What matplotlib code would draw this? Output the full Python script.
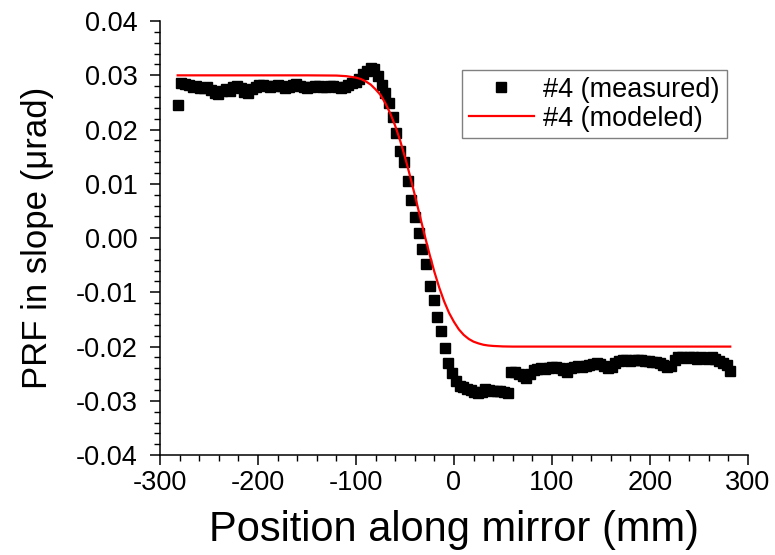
import numpy as np
import matplotlib
matplotlib.use("Agg")
import matplotlib.pyplot as plt
from matplotlib.ticker import MultipleLocator, FormatStrFormatter

plt.rcParams['font.family'] = ['Liberation Sans', 'DejaVu Sans']
plt.rcParams['axes.unicode_minus'] = False

# measured PRF (#4), sampled on a regular grid along the mirror
x_meas = np.linspace(-282, 282, 150)
y_meas = [
    0.0245, 0.0285, 0.0284, 0.0282, 0.0279, 0.0280, 0.0277, 0.0276, 0.0278, 0.0273,
    0.0268, 0.0266, 0.0271, 0.0275, 0.0272, 0.0278, 0.0280, 0.0276, 0.0270, 0.0268,
    0.0274, 0.0279, 0.0282, 0.0283, 0.0280, 0.0278, 0.0281, 0.0283, 0.0280, 0.0277,
    0.0279, 0.0282, 0.0284, 0.0281, 0.0278, 0.0277, 0.0279, 0.0280, 0.0281, 0.0279,
    0.0278, 0.0280, 0.0281, 0.0279, 0.0277, 0.0278, 0.0282, 0.0285, 0.0288, 0.0294,
    0.0302, 0.0308, 0.0314, 0.0312, 0.0298, 0.0282, 0.0268, 0.0249, 0.0224, 0.0193,
    0.0161, 0.0140, 0.0106, 0.0070, 0.0038, 0.0010, -0.0020, -0.0047, -0.0088, -0.0114,
    -0.0146, -0.0172, -0.0203, -0.0230, -0.0248, -0.0264, -0.0273, -0.0275, -0.0278, -0.0280,
    -0.0283, -0.0286, -0.0284, -0.0279, -0.0280, -0.0282, -0.0281, -0.0282, -0.0284, -0.0285,
    -0.0247, -0.0246, -0.0250, -0.0255, -0.0258, -0.0250, -0.0243, -0.0241, -0.0240, -0.0242,
    -0.0239, -0.0237, -0.0238, -0.0240, -0.0244, -0.0246, -0.0240, -0.0238, -0.0236, -0.0237,
    -0.0235, -0.0233, -0.0232, -0.0231, -0.0232, -0.0236, -0.0240, -0.0238, -0.0231, -0.0227,
    -0.0225, -0.0224, -0.0226, -0.0225, -0.0224, -0.0224, -0.0226, -0.0227, -0.0229, -0.0228,
    -0.0230, -0.0233, -0.0237, -0.0235, -0.0224, -0.0219, -0.0220, -0.0221, -0.0219, -0.0220,
    -0.0222, -0.0220, -0.0221, -0.0222, -0.0220, -0.0222, -0.0226, -0.0230, -0.0234, -0.0245,
]

# modeled PRF (#4)
x_model = [-282, -150, -120, -110, -100, -95, -90, -85, -80, -75, -70, -65, -60, -55,
           -50, -45, -40, -35, -30, -25, -20, -15, -10, -5, 0, 5, 10, 15, 20, 25,
           30, 35, 40, 50, 60, 282]
y_model = [0.0300, 0.0300, 0.02996, 0.02985, 0.02958, 0.02932, 0.02888, 0.02830, 0.02741,
           0.02640, 0.02485, 0.02297, 0.02071, 0.01801, 0.01494, 0.01156, 0.00796,
           0.00426, 0.00058, -0.00293, -0.00621, -0.00914, -0.01167, -0.01379, -0.01544,
           -0.01683, -0.01785, -0.01858, -0.01909, -0.01941, -0.01966, -0.01980, -0.01988,
           -0.01997, -0.0200, -0.0200]

fig = plt.figure(figsize=(7.75, 5.55), dpi=100)
ax = fig.add_axes([0.2065, 0.18, 0.7585, 0.782])

ax.plot(x_meas, y_meas, 's', color='black', markersize=6.5, label='#4 (measured)')
ax.plot(x_model, y_model, '-', color='red', linewidth=1.6, label='#4 (modeled)')

ax.set_xlim(-300, 300)
ax.set_ylim(-0.04, 0.04)
ax.xaxis.set_major_locator(MultipleLocator(100))
ax.xaxis.set_minor_locator(MultipleLocator(20))
ax.yaxis.set_major_locator(MultipleLocator(0.01))
ax.yaxis.set_minor_locator(MultipleLocator(0.002))
ax.yaxis.set_major_formatter(FormatStrFormatter('%.2f'))

for s in ['top', 'right']:
    ax.spines[s].set_visible(False)
for s in ['left', 'bottom']:
    ax.spines[s].set_linewidth(1.1)

ax.tick_params(which='major', direction='out', length=7, width=1.1, labelsize=19.5)
ax.tick_params(axis='y', which='major', pad=9)
ax.tick_params(which='minor', direction='out', length=4, width=1.0)

ax.set_xlabel('Position along mirror (mm)', fontsize=30, labelpad=10)
ax.set_ylabel('PRF in slope (\u03bcrad)', fontsize=25, labelpad=16)

leg = ax.legend(loc='upper right', bbox_to_anchor=(0.964, 0.887), borderaxespad=0,
                fontsize=19.5, fancybox=False, edgecolor='gray', framealpha=1,
                handlelength=2.4, handletextpad=0.35, borderpad=0.25, labelspacing=0.1)
leg.get_frame().set_linewidth(1.0)

fig.savefig('out.png', dpi=100)
